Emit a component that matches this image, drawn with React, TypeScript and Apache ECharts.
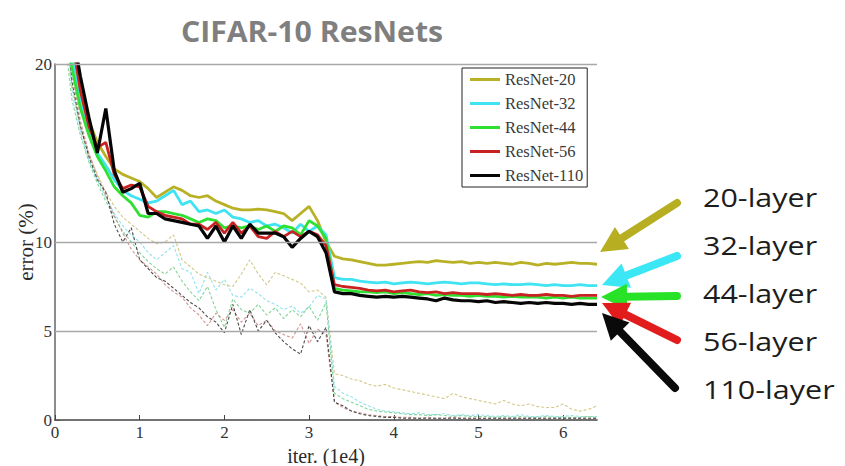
import React, { useEffect, useRef } from "react";
import * as echarts from "echarts";

const xs = [
  0.1, 0.2, 0.3, 0.4, 0.5, 0.6, 0.7, 0.8, 0.9, 1.0,
  1.1, 1.2, 1.3, 1.4, 1.5, 1.6, 1.7, 1.8, 1.9, 2.0,
  2.1, 2.2, 2.3, 2.4, 2.5, 2.6, 2.7, 2.8, 2.9, 3.0,
  3.1, 3.2, 3.3, 3.4, 3.5, 3.6, 3.7, 3.8, 3.9, 4.0,
  4.1, 4.2, 4.3, 4.4, 4.5, 4.6, 4.7, 4.8, 4.9, 5.0,
  5.1, 5.2, 5.3, 5.4, 5.5, 5.6, 5.7, 5.8, 5.9, 6.0,
  6.1, 6.2, 6.3, 6.4,
];

// test error (solid)
const test20 = [
  24, 21, 18.5, 16.8, 15.6, 14.8, 14.1, 13.8, 13.6, 13.4,
  13.0, 12.5, 12.8, 13.1, 12.9, 12.6, 12.5, 12.6, 12.3, 12.1,
  11.9, 11.8, 11.8, 11.85, 11.8, 11.7, 11.6, 11.2, 11.6, 12.0,
  11.2, 10.0, 9.2, 9.05, 9.0, 8.9, 8.8, 8.7, 8.7, 8.75,
  8.8, 8.85, 8.9, 8.85, 8.95, 8.9, 8.85, 8.9, 8.8, 8.85,
  8.8, 8.85, 8.8, 8.75, 8.85, 8.8, 8.7, 8.8, 8.75, 8.8,
  8.85, 8.8, 8.8, 8.75,
];
const test32 = [
  24, 20.5, 18, 16.2, 15.0, 14.3, 13.5, 12.9, 12.6, 12.4,
  12.2, 12.3, 12.6, 12.9, 12.1, 12.3, 11.7, 11.8, 11.6, 11.8,
  11.4, 11.3, 11.1, 11.2, 10.9, 11.0, 10.8, 10.5, 11.0, 10.6,
  10.9, 10.4, 8.0, 7.9, 7.9, 7.8, 7.75, 7.7, 7.75, 7.65,
  7.7, 7.75, 7.7, 7.65, 7.7, 7.75, 7.7, 7.65, 7.7, 7.7,
  7.65, 7.6, 7.65, 7.6, 7.6, 7.65, 7.6, 7.55, 7.6, 7.55,
  7.55, 7.6, 7.55, 7.55,
];
const test44 = [
  22, 19.8, 17.5, 16.0, 14.8, 14.0, 13.1, 12.6, 12.2, 11.5,
  11.4, 11.7, 11.7, 11.6, 11.5, 11.3, 11.1, 11.3, 11.2, 10.8,
  10.9, 10.8, 10.9, 10.7, 10.9, 10.6, 10.9, 10.8, 10.4, 11.2,
  10.9, 10.2, 7.4, 7.3, 7.25, 7.2, 7.2, 7.15, 7.2, 7.1,
  7.15, 7.1, 7.05, 7.1, 7.0, 7.05, 7.0, 7.0, 6.95, 7.0,
  6.95, 6.95, 6.9, 6.95, 6.9, 6.9, 6.9, 6.85, 6.9, 6.85,
  6.9, 6.85, 6.85, 6.85,
];
const test56 = [
  26, 21.5, 18.5, 16.5, 15.3, 15.6, 13.8, 13.0, 13.2, 13.1,
  12.0, 11.7, 11.5, 11.4, 11.3, 11.0, 11.0, 10.7, 11.1, 10.5,
  11.1, 10.5, 10.9, 10.3, 10.2, 10.6, 10.3, 10.6, 10.3, 10.6,
  10.4, 9.8, 7.6, 7.5, 7.45, 7.4, 7.3, 7.25, 7.3, 7.2,
  7.25, 7.3, 7.2, 7.15, 7.2, 7.1, 7.15, 7.1, 7.1, 7.1,
  7.05, 7.1, 7.05, 7.0, 7.05, 7.0, 7.0, 7.05, 7.0, 7.0,
  6.95, 7.0, 7.0, 7.0,
];
const test110 = [
  26, 22, 19.3, 17.0, 15.0, 17.5, 14.0, 12.8, 13.0, 13.3,
  11.6, 11.6, 11.3, 11.2, 11.1, 11.0, 10.9, 10.2, 10.9, 10.0,
  10.9, 10.2, 11.0, 10.5, 10.5, 10.5, 10.3, 9.7, 10.2, 10.6,
  10.3, 9.4, 7.2, 7.1, 7.1, 7.0, 6.95, 6.9, 6.95, 6.9,
  6.95, 6.9, 6.85, 6.8, 6.7, 6.85, 6.75, 6.7, 6.7, 6.65,
  6.7, 6.6, 6.65, 6.6, 6.55, 6.6, 6.55, 6.6, 6.55, 6.55,
  6.5, 6.55, 6.5, 6.5,
];

// training error (dashed)
const train20 = [
  23, 18.8, 16.5, 14.9, 13.8, 12.8, 12.0, 11.4, 11.0, 10.6,
  10.2, 9.9, 10.0, 10.4, 9.0, 8.6, 8.2, 8.0, 7.8, 7.6,
  7.5, 8.2, 9.0, 8.2, 7.6, 8.3, 8.1, 7.9, 7.7, 7.2,
  7.3, 6.9, 2.6, 2.5, 2.3, 2.2, 2.0, 1.9, 2.0, 1.8,
  1.7, 1.6, 1.5, 1.4, 1.3, 1.2, 1.5, 1.3, 1.2, 1.1,
  1.0, 0.9, 1.1, 0.9, 0.8, 0.9, 0.75, 0.7, 0.7, 0.9,
  0.6, 0.5, 0.6, 0.8,
];
const train32 = [
  23, 18.5, 16.2, 14.6, 13.5, 12.5, 11.6, 10.9, 10.4, 10.0,
  9.4, 9.0, 9.4, 9.8, 8.5, 8.3, 7.1, 8.3, 7.3, 7.9,
  7.0, 6.9, 7.4, 7.1, 6.7, 6.5, 6.2, 6.4, 6.0, 6.35,
  7.0, 6.8, 1.9, 1.5, 1.3, 1.0, 0.8, 0.6, 0.5, 0.45,
  0.4, 0.35, 0.4, 0.3, 0.3, 0.35, 0.25, 0.3, 0.25, 0.3,
  0.25, 0.2, 0.25, 0.2, 0.3, 0.2, 0.2, 0.25, 0.2, 0.2,
  0.25, 0.2, 0.2, 0.2,
];
const train44 = [
  22, 18, 16, 14.5, 13.3, 12.3, 11.4, 10.6, 10.0, 9.4,
  8.9, 8.5, 8.2, 8.6, 7.8, 7.2, 6.7, 7.5, 6.2, 5.2,
  6.8, 6.2, 6.0, 6.5, 5.9, 6.3, 5.7, 6.2, 5.8, 6.4,
  5.6, 6.6, 1.5, 1.2, 1.0, 0.8, 0.6, 0.5, 0.45, 0.4,
  0.35, 0.3, 0.3, 0.25, 0.3, 0.25, 0.2, 0.25, 0.2, 0.2,
  0.2, 0.15, 0.2, 0.15, 0.2, 0.15, 0.15, 0.2, 0.15, 0.15,
  0.15, 0.15, 0.2, 0.15,
];
const train56 = [
  24, 19.5, 16.8, 15.0, 13.7, 12.6, 11.5, 10.5, 9.6, 9.0,
  8.6, 8.2, 7.6, 7.2, 6.9, 6.3, 5.9, 5.3, 6.0, 5.6,
  6.2, 5.5, 6.0, 5.3, 5.6, 5.0, 4.8, 4.6, 5.4, 4.3,
  5.1, 4.8, 1.0, 0.7, 0.5, 0.4, 0.3, 0.25, 0.2, 0.2,
  0.15, 0.15, 0.1, 0.15, 0.1, 0.1, 0.15, 0.1, 0.1, 0.1,
  0.1, 0.1, 0.1, 0.1, 0.1, 0.1, 0.1, 0.1, 0.1, 0.1,
  0.1, 0.1, 0.1, 0.1,
];
const train110 = [
  24, 19, 16.5, 14.8, 13.5, 12.8, 11.0, 10.0, 10.8, 9.0,
  8.5, 8.0, 7.8, 7.4, 7.0, 6.6, 6.3, 5.8, 5.5, 4.9,
  6.5, 4.8, 6.2, 5.0, 5.6, 4.9, 4.4, 4.0, 3.7, 5.3,
  4.4, 5.2, 1.0, 0.8, 0.5, 0.35, 0.25, 0.2, 0.15, 0.15,
  0.1, 0.1, 0.1, 0.1, 0.1, 0.1, 0.1, 0.1, 0.1, 0.1,
  0.1, 0.1, 0.1, 0.1, 0.1, 0.1, 0.1, 0.1, 0.1, 0.1,
  0.1, 0.1, 0.1, 0.1,
];

const names = ["ResNet-20", "ResNet-32", "ResNet-44", "ResNet-56", "ResNet-110"];
const layerLabels = ["20-layer", "32-layer", "44-layer", "56-layer", "110-layer"];
const yTicks = [0, 5, 10, 20];
const xTicks = [0, 1, 2, 3, 4, 5, 6];
const gridValues = [5, 10, 20];

const solidColors = ["#b8b126", "#3fe3f2", "#2fe030", "#c92222", "#050505"];
const dashColors = ["#d2c886", "#90e3ee", "#82d598", "#d29292", "#4a4a4a"];
const arrowColors = ["#b7ae22", "#3be6f5", "#27e227", "#e21c1c", "#0a0a0a"];

const testSets = [test20, test32, test44, test56, test110];
const trainSets = [train20, train32, train44, train56, train110];

const pair = (vals: number[]) => xs.map((x, i) => [x, vals[i]]);

function arrow(x1: number, y1: number, x2: number, y2: number, color: string) {
  const dx = x2 - x1;
  const dy = y2 - y1;
  const len = Math.sqrt(dx * dx + dy * dy);
  const ux = dx / len;
  const uy = dy / len;
  const L = 26;
  const H = 13;
  const bx = x2 - ux * L;
  const by = y2 - uy * L;
  const nx = -uy;
  const ny = ux;
  return [
    {
      type: "line",
      shape: { x1, y1, x2: bx + ux * 2, y2: by + uy * 2 },
      style: { stroke: color, lineWidth: 8, lineCap: "round" },
    },
    {
      type: "polygon",
      shape: {
        points: [
          [x2, y2],
          [bx + nx * H, by + ny * H],
          [bx - nx * H, by - ny * H],
        ],
      },
      style: { fill: color },
    },
  ];
}

export default function App() {
  const ref = useRef<HTMLDivElement>(null);
  useEffect(() => {
    if (!ref.current) return;
    const chart = echarts.init(ref.current, undefined, { renderer: "svg" });

    const series: any[] = [];
    series.push({
      name: "grid",
      type: "line",
      data: [],
      z: 1,
      silent: true,
      markLine: {
        silent: true,
        symbol: "none",
        label: { show: false },
        lineStyle: { color: "#a8a8a8", type: "solid", width: 1.3 },
        data: gridValues.map((v) => ({ yAxis: v })),
      },
    });
    trainSets.forEach((vals, i) => {
      series.push({
        name: names[i] + " train",
        type: "line",
        data: pair(vals),
        showSymbol: false,
        symbol: "none",
        z: 2,
        lineStyle: { color: dashColors[i], width: 1.1, type: [3, 2] },
        itemStyle: { color: dashColors[i] },
      });
    });
    testSets.forEach((vals, i) => {
      series.push({
        name: names[i],
        type: "line",
        data: pair(vals),
        showSymbol: false,
        symbol: "none",
        z: 3,
        lineStyle: { color: solidColors[i], width: i === 4 ? 3.2 : 2.8 },
        itemStyle: { color: solidColors[i] },
      });
    });

    const graphics: any[] = [
      {
        type: "text",
        x: 312,
        y: 31,
        scaleX: 1.08,
        style: {
          text: "CIFAR-10 ResNets",
          fill: "#7f7f7f",
          font: 'bold 28px "Open Sans"',
          textAlign: "center",
          textVerticalAlign: "middle",
        },
      },
    ];
    const labelY = [197, 245, 293, 341, 389];
    layerLabels.forEach((t, i) => {
      graphics.push({
        type: "text",
        x: 703,
        y: labelY[i],
        scaleX: 1.22,
        style: {
          text: t,
          fill: "#1c1c1c",
          font: '25px "Open Sans"',
          textAlign: "left",
          textVerticalAlign: "middle",
        },
      });
    });
    const arrows = [
      [677, 203, 600, 252],
      [677, 256, 602, 285],
      [677, 296, 601, 297],
      [677, 340, 602, 303],
      [675, 388, 602, 313],
    ];
    arrows.forEach((a, i) => {
      graphics.push(...arrow(a[0], a[1], a[2], a[3], arrowColors[i]));
    });

    chart.setOption({
      animation: false,
      backgroundColor: "#ffffff",
      grid: {
        left: 55,
        right: 248,
        top: 64,
        bottom: 46,
        containLabel: false,
        outerBoundsMode: "none",
      },
      legend: {
        data: names,
        orient: "vertical",
        left: 462,
        top: 68,
        padding: [3, 4, 3, 8],
        itemGap: 7,
        itemWidth: 30,
        itemHeight: 3,
        icon: "rect",
        borderColor: "#222",
        borderWidth: 1,
        backgroundColor: "#fff",
        textStyle: {
          fontFamily: '"Liberation Serif", serif',
          fontSize: 16.5,
          lineHeight: 16,
          color: "#3a3a3a",
        },
      },
      xAxis: {
        type: "value",
        min: 0,
        max: 6.4,
        interval: 1,
        name: "iter. (1e4)",
        nameLocation: "middle",
        nameGap: 14,
        nameTextStyle: {
          fontFamily: '"Liberation Serif", serif',
          fontSize: 20,
          color: "#2a2a2a",
        },
        axisLine: { show: true, lineStyle: { color: "#444", width: 1.6 } },
        axisTick: { show: true, inside: true, length: 5, customValues: xTicks, lineStyle: { color: "#444" } },
        axisLabel: {
          customValues: xTicks,
          formatter: (v: number) => (Number.isInteger(v) ? String(v) : ""),
          margin: 4,
          fontFamily: '"Liberation Serif", serif',
          fontSize: 17,
          color: "#333",
        },
        splitLine: { show: false },
      },
      yAxis: {
        type: "value",
        min: 0,
        max: 20,
        interval: 5,
        name: "error (%)",
        nameLocation: "middle",
        nameGap: 19,
        nameMoveOverlap: false,
        nameTextStyle: {
          fontFamily: '"Liberation Serif", serif',
          fontSize: 21,
          color: "#2a2a2a",
        },
        axisLine: { show: true, lineStyle: { color: "#666", width: 1.5 } },
        axisTick: { show: true, inside: true, length: 5, customValues: yTicks, lineStyle: { color: "#555" } },
        axisLabel: {
          customValues: yTicks,
          formatter: (v: number) => (yTicks.indexOf(v) >= 0 ? String(v) : ""),
          margin: 3,
          fontFamily: '"Liberation Serif", serif',
          fontSize: 17,
          color: "#333",
        },
        splitLine: { show: false },
      },
      series,
      graphic: graphics,
    });
    return () => chart.dispose();
  }, []);
  return (
    <div
      ref={ref}
      style={{ position: "fixed", left: 0, top: 0, width: 845, height: 466, background: "#fff" }}
    />
  );
}
